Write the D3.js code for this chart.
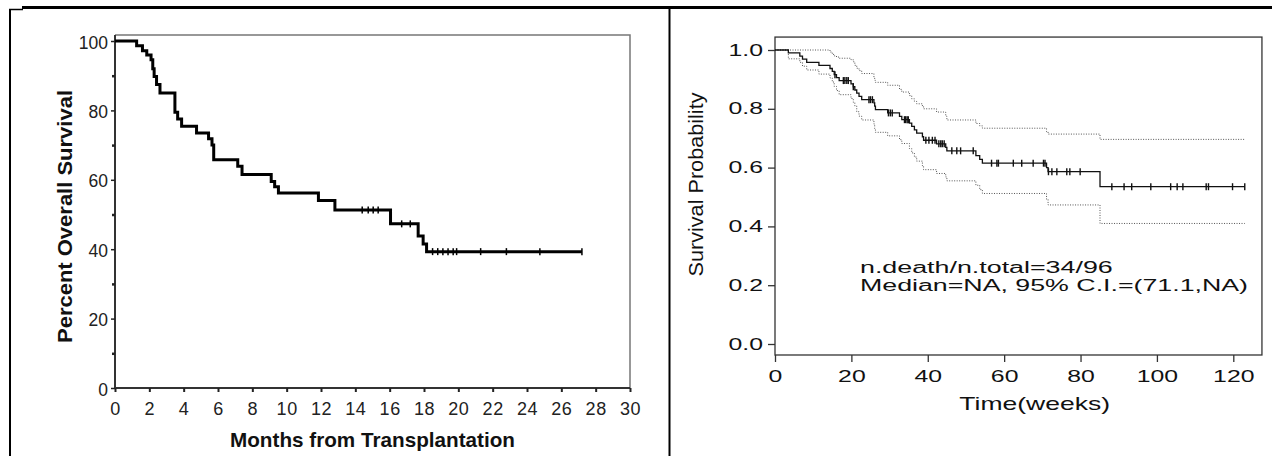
<!DOCTYPE html>
<html lang="en">
<head>
<meta charset="utf-8">
<title>Overall survival</title>
<style>
body { margin: 0; background: #fff; }
svg { display: block; font-family: "Liberation Sans", Arial, sans-serif; }
.axis path { display: none; }
</style>
</head>
<body>
<div id="chart"></div>
<script src="https://d3js.org/d3.v7.min.js"></script>
<script>
// ---- left panel data (months / percent)
var leftXTicks = [0, 2, 4, 6, 8, 10, 12, 14, 16, 18, 20, 22, 24, 26, 28, 30];
var leftYTicks = [0, 20, 40, 60, 80, 100];
var leftYMinor = [10, 30, 50, 70, 90];
var leftMonths = [0, 1.26, 1.6, 1.85, 2.1, 2.2, 2.28, 2.42, 2.62, 3.49, 3.65, 3.88, 4.75, 5.45, 5.65, 5.75, 7.15, 7.4, 9.1, 9.3, 9.52, 11.85, 12.81, 16.05, 17.66, 17.95, 18.15];
var leftPercent = [100, 98.6, 97.2, 96.0, 94.6, 92.0, 89.8, 87.5, 85.0, 79.5, 77.5, 75.4, 73.5, 71.8, 70.0, 65.8, 63.9, 61.5, 59.5, 58.0, 56.2, 54.0, 51.3, 47.3, 43.8, 41.5, 39.3];
var leftCensor = [14.4, 14.75, 15.04, 15.33, 16.7, 17.2, 18.5, 18.8, 19.1, 19.4, 19.7, 19.9, 21.3, 22.8, 24.75, 27.2];
var leftEnd = 27.2;

// ---- right panel data (weeks / probability)
var rightXTicks = [0, 20, 40, 60, 80, 100, 120];
var rightYTicks = [0, 0.2, 0.4, 0.6, 0.8, 1.0];
var rightYLabels = ['0.0', '0.2', '0.4', '0.6', '0.8', '1.0'];
var rightWeeks = [0, 3.5, 6.5, 7.2, 8.3, 11.5, 14.4, 15.0, 15.5, 16.1, 16.8, 19.9, 20.5, 20.9, 21.4, 22.0, 22.7, 25.9, 26.1, 26.3, 29.5, 32.6, 33.2, 35.2, 35.8, 36.5, 37.1, 38.6, 38.9, 42.3, 44.7, 45.0, 52.6, 53.6, 54.3, 71.1, 71.5, 85.1];
var rightSurv = [1.0, .990, .979, .969, .958, .948, .937, .927, .916, .906, .896, .885, .875, .864, .853, .842, .831, .820, .809, .797, .786, .774, .763, .751, .740, .728, .717, .705, .693, .681, .669, .657, .641, .628, .615, .600, .586, .535];
var rightUpper = [1.0, 1.0, 1.0, 1.0, 1.0, 1.0, .993, .985, .980, .976, .972, .967, .960, .948, .938, .930, .920, .905, .897, .890, .880, .866, .857, .845, .834, .825, .817, .808, .800, .789, .775, .762, .750, .742, .734, .722, .714, .696];
var rightLower = [1.0, .970, .958, .945, .932, .918, .905, .891, .876, .862, .848, .835, .822, .810, .790, .775, .762, .748, .733, .720, .708, .695, .682, .665, .650, .636, .622, .606, .593, .580, .568, .555, .540, .525, .512, .492, .473, .410];
var rightCensor = [15.7, 17.9, 18.3, 18.8, 19.2, 20.5, 24.6, 25.0, 25.5, 29.7, 30.2, 30.7, 33.9, 34.2, 34.6, 34.9, 39.5, 40.3, 41.2, 41.9, 42.9, 43.4, 43.8, 44.3, 46.3, 47.6, 48.6, 51.9, 56.7, 58.1, 58.5, 62.4, 64.6, 67.6, 70.3, 70.7, 71.6, 72.5, 73.8, 76.4, 77.2, 79.9, 88.2, 91.4, 93.4, 98.4, 103.6, 105.3, 106.8, 112.9, 113.5, 119.8, 123.0];
var rightEnd = 123.0;
var rightNote = ['n.death/n.total=34/96', 'Median=NA, 95% C.I.=(71.1,NA)'];

(function(d3) {
    'use strict';

    var width = 1272;
    var height = 456;

    var svg = d3.select('#chart')
        .append('svg')
        .attr('width', width)
        .attr('height', height);

    function steps(times, values, end) {
        var pts = times.map(function(t, i) { return [t, values[i]]; });
        pts.push([end, values[values.length - 1]]);
        return pts;
    }
    function valueAt(times, values, t) {
        return values[Math.max(0, d3.bisectRight(times, t) - 1)];
    }

    // page frame
    var frame = svg.append('g').attr('stroke', '#000').attr('fill', 'none');
    frame.append('line').attr('x1', 22).attr('x2', width).attr('y1', 7.5).attr('y2', 7.5).attr('stroke-width', 3);
    frame.append('line').attr('x1', 9).attr('x2', 23).attr('y1', 9.5).attr('y2', 9.5).attr('stroke-width', 1.5);
    frame.append('line').attr('x1', 10).attr('x2', 10).attr('y1', 9).attr('y2', height).attr('stroke-width', 2);
    frame.append('line').attr('x1', 669.5).attr('x2', 669.5).attr('y1', 9).attr('y2', height).attr('stroke-width', 2);

    // ---------- left panel
    var xL = d3.scaleLinear().domain([0, 30]).range([115, 630]);
    var yL = d3.scaleLinear().domain([0, 100]).range([388, 41]);
    var left = svg.append('g');

    left.append('path')
        .attr('d', 'M' + xL(0) + ',' + yL(101.7) + 'H' + xL(30) + 'V' + yL(0))
        .attr('fill', 'none').attr('stroke', '#777').attr('stroke-width', 1.5);
    left.append('path')
        .attr('d', 'M' + xL(0) + ',' + yL(101.7) + 'V' + yL(0) + 'H' + xL(30))
        .attr('fill', 'none').attr('stroke', '#333').attr('stroke-width', 2);

    var lx = left.append('g').attr('class', 'axis')
        .attr('transform', 'translate(0,' + yL(0) + ')')
        .call(d3.axisBottom(xL).tickValues(leftXTicks).tickSize(4).tickPadding(10));
    lx.attr('font-family', null).attr('font-size', null);
    lx.selectAll('line').attr('stroke', '#222').attr('stroke-width', 2);
    lx.selectAll('text').attr('font-size', 18).attr('fill', '#222').attr('letter-spacing', 0.6);

    var ly = left.append('g').attr('class', 'axis')
        .attr('transform', 'translate(' + xL(0) + ',0)')
        .call(d3.axisLeft(yL).tickValues(leftYTicks).tickSize(4).tickPadding(3));
    ly.attr('font-family', null).attr('font-size', null);
    ly.selectAll('line').attr('stroke', '#222').attr('stroke-width', 1.5);
    ly.selectAll('text').attr('font-size', 17.5).attr('fill', '#222').attr('dy', '0.4em');

    var lym = left.append('g').attr('class', 'axis')
        .attr('transform', 'translate(' + xL(0) + ',0)')
        .call(d3.axisLeft(yL).tickValues(leftYMinor).tickSize(3).tickFormat(''));
    lym.selectAll('line').attr('stroke', '#222').attr('stroke-width', 2.5);

    var lineL = d3.line()
        .x(function(d) { return xL(d[0]); })
        .y(function(d) { return yL(d[1]); })
        .curve(d3.curveStepAfter);

    left.append('path')
        .datum(steps(leftMonths, leftPercent, leftEnd))
        .attr('d', lineL)
        .attr('fill', 'none')
        .attr('stroke', '#000')
        .attr('stroke-width', 3);

    left.selectAll('.cl')
        .data(leftCensor)
        .enter()
        .append('line')
        .attr('class', 'cl')
        .attr('x1', function(d) { return xL(d); })
        .attr('x2', function(d) { return xL(d); })
        .attr('y1', function(d) { return yL(valueAt(leftMonths, leftPercent, d)) - 3.5; })
        .attr('y2', function(d) { return yL(valueAt(leftMonths, leftPercent, d)) + 3.5; })
        .attr('stroke', '#000')
        .attr('stroke-width', 1.5);

    left.append('text')
        .attr('x', 372.5).attr('y', 446.5)
        .attr('text-anchor', 'middle')
        .attr('font-weight', 'bold').attr('font-size', 20.5).attr('fill', '#111')
        .attr('textLength', 285).attr('lengthAdjust', 'spacingAndGlyphs')
        .text('Months from Transplantation');

    left.append('text')
        .attr('transform', 'translate(72,216.5) rotate(-90)')
        .attr('text-anchor', 'middle')
        .attr('font-weight', 'bold').attr('font-size', 21).attr('fill', '#111')
        .attr('textLength', 253).attr('lengthAdjust', 'spacingAndGlyphs')
        .text('Percent Overall Survival');

    // ---------- right panel
    var xR = d3.scaleLinear().domain([0, 120]).range([775, 1233.3]);
    var yR = d3.scaleLinear().domain([0, 1]).range([344, 50]);
    var right = svg.append('g');
    var sx = 1.55;

    right.append('rect')
        .attr('x', xR(0)).attr('y', yR(1.044))
        .attr('width', xR(127.5) - xR(0))
        .attr('height', yR(-0.0374) - yR(1.044))
        .attr('fill', 'none').attr('stroke', '#333').attr('stroke-width', 1.3);

    var rx = right.append('g').attr('class', 'axis')
        .attr('transform', 'translate(0,' + yR(-0.0374) + ')')
        .call(d3.axisBottom(xR).tickValues(rightXTicks).tickSize(7).tickPadding(9));
    rx.attr('font-family', null).attr('font-size', null);
    rx.selectAll('line').attr('stroke', '#333').attr('stroke-width', 1.3);
    rx.selectAll('text').attr('font-size', 16).attr('fill', '#111')
        .attr('transform', 'scale(' + sx + ',1)');

    var ry = right.append('g').attr('class', 'axis')
        .attr('transform', 'translate(' + xR(0) + ',0)')
        .call(d3.axisLeft(yR).tickValues(rightYTicks).tickSize(7).tickPadding(5)
            .tickFormat(function(d, i) { return rightYLabels[i]; }));
    ry.attr('font-family', null).attr('font-size', null);
    ry.selectAll('line').attr('stroke', '#333').attr('stroke-width', 1.3);
    ry.selectAll('text').attr('font-size', 16).attr('fill', '#111')
        .attr('x', -12 / sx)
        .attr('transform', 'scale(' + sx + ',1)');

    var lineR = d3.line()
        .x(function(d) { return xR(d[0]); })
        .y(function(d) { return yR(d[1]); })
        .curve(d3.curveStepAfter);

    [rightUpper, rightLower].forEach(function(band) {
        right.append('path')
            .datum(steps(rightWeeks, band, rightEnd))
            .attr('d', lineR)
            .attr('fill', 'none')
            .attr('stroke', '#555')
            .attr('stroke-width', 1)
            .attr('stroke-dasharray', '1,1.5');
    });

    right.append('path')
        .datum(steps(rightWeeks, rightSurv, rightEnd))
        .attr('d', lineR)
        .attr('fill', 'none')
        .attr('stroke', '#111')
        .attr('stroke-width', 1.3);

    right.selectAll('.cr')
        .data(rightCensor)
        .enter()
        .append('line')
        .attr('class', 'cr')
        .attr('x1', function(d) { return xR(d); })
        .attr('x2', function(d) { return xR(d); })
        .attr('y1', function(d) { return yR(valueAt(rightWeeks, rightSurv, d)) - 3.5; })
        .attr('y2', function(d) { return yR(valueAt(rightWeeks, rightSurv, d)) + 3.5; })
        .attr('stroke', '#111')
        .attr('stroke-width', 1.4);

    right.selectAll('.note')
        .data(rightNote)
        .enter()
        .append('text')
        .attr('class', 'note')
        .attr('x', 860)
        .attr('y', function(d, i) { return 273 + i * 18; })
        .attr('font-size', 16).attr('fill', '#111')
        .attr('textLength', function(d, i) { return i === 0 ? 252.7 : 388; })
        .attr('lengthAdjust', 'spacingAndGlyphs')
        .text(function(d) { return d; });

    right.append('text')
        .attr('x', 959.3).attr('y', 410)
        .attr('font-size', 17.7).attr('fill', '#111')
        .attr('textLength', 150.7).attr('lengthAdjust', 'spacingAndGlyphs')
        .text('Time(weeks)');

    right.append('text')
        .attr('transform', 'translate(703,184.5) rotate(-90)')
        .attr('text-anchor', 'middle')
        .attr('font-size', 20).attr('fill', '#111')
        .attr('textLength', 184).attr('lengthAdjust', 'spacingAndGlyphs')
        .text('Survival Probability');

})(window.d3);
</script>
</body>
</html>
